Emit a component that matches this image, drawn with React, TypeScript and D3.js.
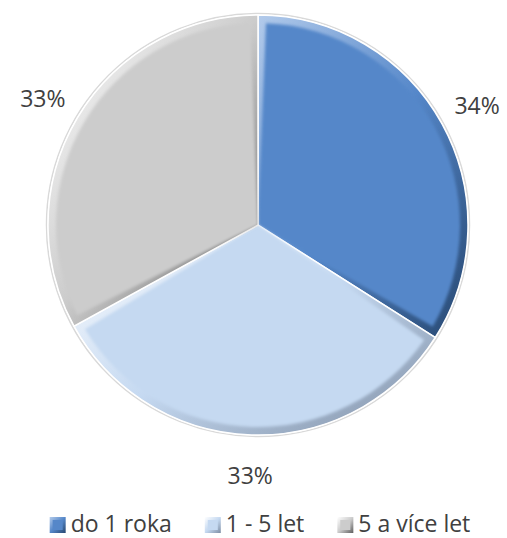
import React from "react";
import * as d3 from "d3";

const categories = ["do 1 roka", "1 - 5 let", "5 a více let"];
const values = [34, 33, 33];
const labels = ["34%", "33%", "33%"];
const baseColors = ["#5587C9", "#C5D9F1", "#CCCCCC"];
const lightColors = ["#B3CBEB", "#FFFFFF", "#FFFFFF"];
const darkColors = ["#26466F", "#7D8DA3", "#5E5E5E"];

const W = 507;
const H = 538;
const cx = 258;
const cy = 225;
const R = 210;
const FONT = "'Open Sans', 'Liberation Sans', sans-serif";
const FS = 23;

function measure(text: string): number {
  const c = document.createElement("canvas").getContext("2d");
  if (!c) return text.length * FS * 0.5;
  c.font = `${FS}px 'Open Sans'`;
  return c.measureText(text).width;
}

export default function App() {
  const pie = d3.pie<number>().sort(null).startAngle(0).endAngle(2 * Math.PI);
  const arcs = pie(values);
  const outer = d3.arc<d3.PieArcDatum<number>>().innerRadius(0).outerRadius(R);
  const inset = d3
    .arc<d3.PieArcDatum<number>>()
    .innerRadius(0)
    .outerRadius(R - 8)
    .padRadius(R)
    .padAngle(16 / R);
  const labelArc = d3.arc<d3.PieArcDatum<number>>().innerRadius(250).outerRadius(250);

  // legend layout
  const marker = 16;
  const gapMT = 5;
  const itemGap = 33;
  const widths = categories.map((c) => measure(c));
  const itemW = widths.map((w) => marker + gapMT + w);
  const total = itemW.reduce((a, b) => a + b, 0) + itemGap * (categories.length - 1);
  let lx = 260 - total / 2;
  const legendItems = categories.map((c, i) => {
    const x = lx;
    lx += itemW[i] + itemGap;
    return { c, x, i };
  });
  const legendBaseline = 532;

  return (
    <svg
      width={W}
      height={H}
      style={{ position: "absolute", left: 0, top: 0, background: "#fff" }}
    >
      <defs>
        {baseColors.map((_, i) => (
          <linearGradient key={i} id={`edge${i}`} x1="0" y1="0" x2="1" y2="1">
            <stop offset="0%" stopColor={lightColors[i]} />
            <stop offset="50%" stopColor={baseColors[i]} />
            <stop offset="100%" stopColor={darkColors[i]} />
          </linearGradient>
        ))}
        <filter id="soft" x="-5%" y="-5%" width="110%" height="110%">
          <feGaussianBlur stdDeviation="1.6" />
        </filter>
      </defs>
      <circle cx={cx} cy={cy} r={R + 1.5} fill="none" stroke="#D9D9D9" strokeWidth={1.5} />
      <g transform={`translate(${cx},${cy})`}>
        {arcs.map((a, i) => (
          <g key={i}>
            <path d={outer(a) || ""} fill={`url(#edge${i})`} stroke="#fff" strokeWidth={1.5} />
            <path d={inset(a) || ""} fill={baseColors[i]} filter="url(#soft)" />
          </g>
        ))}
        {arcs.map((a, i) => {
          const [x, y] = labelArc.centroid(a);
          return (
            <text
              key={i}
              x={x}
              y={y}
              textAnchor="middle"
              dominantBaseline="central"
              fontFamily={FONT}
              fontSize={FS}
              fill="#404040"
            >
              {labels[i]}
            </text>
          );
        })}
      </g>
      {legendItems.map(({ c, x, i }) => (
        <g key={i}>
          <rect
            x={x}
            y={legendBaseline - 15}
            width={marker}
            height={marker}
            fill={`url(#edge${i})`}
          />
          <rect
            x={x + 3}
            y={legendBaseline - 12}
            width={marker - 6}
            height={marker - 6}
            fill={baseColors[i]}
          />
          <text
            x={x + marker + gapMT}
            y={legendBaseline}
            fontFamily={FONT}
            fontSize={FS}
            fill="#404040"
          >
            {c}
          </text>
        </g>
      ))}
    </svg>
  );
}
